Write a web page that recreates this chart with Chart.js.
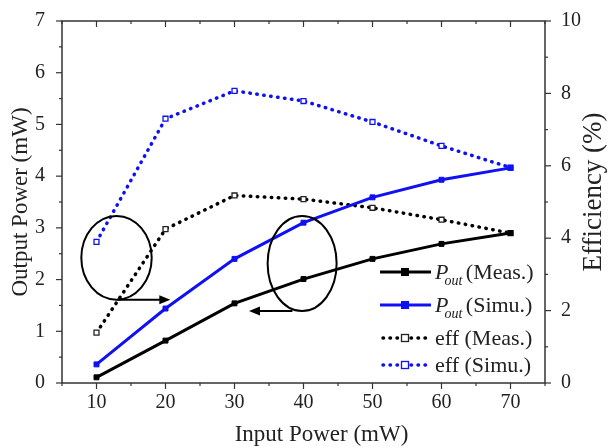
<!DOCTYPE html>
<html>
<head>
<meta charset="utf-8">
<script src="https://cdn.jsdelivr.net/npm/chart.js@4"></script>
<style>
  html, body { margin: 0; padding: 0; background: #fff; }
  #wrap { width: 613px; height: 448px; }
</style>
</head>
<body>
<div id="wrap"><canvas id="powerChart" width="613" height="448"></canvas></div>
<script>
// data
const inputPower = [10, 20, 30, 40, 50, 60, 70];
const poutMeas = [0.11, 0.82, 1.54, 2.01, 2.40, 2.69, 2.90];
const poutSimu = [0.36, 1.44, 2.40, 3.10, 3.59, 3.93, 4.16];
const effMeas = [1.39, 4.25, 5.18, 5.08, 4.84, 4.51, 4.14];
const effSimu = [3.90, 7.30, 8.07, 7.79, 7.21, 6.55, 5.95];
const leftTicks = [0, 1, 2, 3, 4, 5, 6, 7];
const rightTicks = [0, 2, 4, 6, 8, 10];
const xTicks = [10, 20, 30, 40, 50, 60, 70];
const legendNames = [
    ['P', 'out', ' (Meas.)'],
    ['P', 'out', ' (Simu.)'],
    ['eff', '', ' (Meas.)'],
    ['eff', '', ' (Simu.)']
];
// callouts: ellipse centre/radii and arrow in data units
const ellipses = [
    { x: 12.9, y: 2.42, rx: 5.1, ry: 0.81 },
    { x: 39.8, y: 2.31, rx: 5.0, ry: 0.92 }
];
const arrows = [
    { from: 13.0, to: 20.7, y: 1.61 },
    { from: 38.4, to: 32.1, y: 1.39 }
];

const BLUE = '#1010f5';
const SERIF = '"Liberation Serif", "Times New Roman", serif';
const pts = (ys) => inputPower.map((x, i) => ({ x: x, y: ys[i] }));

const frame = {
    id: 'frame',
    afterDraw(chart) {
        const { ctx, chartArea: a, scales } = chart;
        ctx.save();
        ctx.strokeStyle = '#333';
        ctx.lineWidth = 1.5;
        ctx.strokeRect(a.left, a.top, a.right - a.left, a.bottom - a.top);
        ctx.lineWidth = 1.2;
        const line = (x1, y1, x2, y2) => {
            ctx.beginPath(); ctx.moveTo(x1, y1); ctx.lineTo(x2, y2); ctx.stroke();
        };
        for (let v = 5; v <= 75; v += 5) {
            const x = scales.x.getPixelForValue(v);
            const len = v % 10 === 0 ? 6 : 3;
            line(x, a.bottom, x, a.bottom + len);
            line(x, a.top, x, a.top + len);
        }
        for (let v = 0; v <= 7; v += 0.5) {
            const y = scales.y.getPixelForValue(v);
            line(a.left, y, a.left - (v % 1 === 0 ? 6 : 3), y);
        }
        for (let v = 0; v <= 10; v += 1) {
            const y = scales.y2.getPixelForValue(v);
            line(a.right, y, a.right + (v % 2 === 0 ? 6 : 3), y);
        }
        ctx.fillStyle = '#222';
        ctx.textAlign = 'center';
        ctx.textBaseline = 'middle';
        // bottom axis title (sits a little right of centre in the original)
        ctx.font = '23px ' + SERIF;
        ctx.fillText('Input Power (mW)', (a.left + a.right) / 2 + 18, 435);
        // right axis title, reading bottom to top
        ctx.font = '27px ' + SERIF;
        ctx.translate(594, (a.top + a.bottom) / 2 - 10);
        ctx.rotate(-Math.PI / 2);
        ctx.fillText('Efficiency (%)', 0, 0);
        ctx.restore();
    }
};

const callouts = {
    id: 'callouts',
    afterDatasetsDraw(chart) {
        const { ctx, scales } = chart;
        const sx = scales.x, sy = scales.y;
        const kx = sx.getPixelForValue(1) - sx.getPixelForValue(0);
        const ky = sy.getPixelForValue(0) - sy.getPixelForValue(1);
        ctx.save();
        ctx.strokeStyle = '#000';
        ctx.fillStyle = '#000';
        ctx.lineWidth = 2;
        ellipses.forEach(e => {
            ctx.beginPath();
            ctx.ellipse(sx.getPixelForValue(e.x), sy.getPixelForValue(e.y), e.rx * kx, e.ry * ky, 0, 0, Math.PI * 2);
            ctx.stroke();
        });
        arrows.forEach(ar => {
            const x1 = sx.getPixelForValue(ar.from), x2 = sx.getPixelForValue(ar.to);
            const y = sy.getPixelForValue(ar.y);
            const d = Math.sign(x2 - x1);
            ctx.beginPath(); ctx.moveTo(x1, y); ctx.lineTo(x2 - d * 8, y); ctx.stroke();
            ctx.beginPath();
            ctx.moveTo(x2, y); ctx.lineTo(x2 - d * 11, y - 4.5); ctx.lineTo(x2 - d * 11, y + 4.5);
            ctx.closePath(); ctx.fill();
        });

        // legend
        const lx = 380, rows = [272, 305, 338, 365];
        chart.data.datasets.forEach((ds, i) => {
            const y = rows[i];
            const dotted = !!ds.borderDash;
            ctx.strokeStyle = ds.borderColor;
            ctx.lineWidth = ds.borderWidth;
            ctx.setLineDash(dotted ? ds.borderDash : []);
            ctx.lineCap = dotted ? 'round' : 'butt';
            ctx.beginPath(); ctx.moveTo(lx + (dotted ? 3 : 0), y); ctx.lineTo(lx + (dotted ? 47 : 51), y); ctx.stroke();
            ctx.setLineDash([]);
            const mx = lx + 25, r = ds.pointRadius;
            ctx.fillStyle = ds.pointBackgroundColor;
            ctx.fillRect(mx - r, y - r, 2 * r, 2 * r);
            ctx.lineWidth = ds.pointBorderWidth;
            ctx.strokeStyle = ds.pointBorderColor;
            ctx.strokeRect(mx - r, y - r, 2 * r, 2 * r);

            const n = legendNames[i];
            let tx = lx + 55;
            ctx.fillStyle = '#222';
            ctx.textBaseline = 'alphabetic';
            ctx.textAlign = 'left';
            const base = y + 7;
            if (n[1]) {
                ctx.font = 'italic 22px ' + SERIF;
                ctx.fillText(n[0], tx, base);
                const pw = ctx.measureText(n[0]).width;
                ctx.font = 'italic 14px ' + SERIF;
                ctx.fillText(n[1], tx + pw - 4, base + 6);
                tx += pw - 4 + ctx.measureText(n[1]).width - 2;
            } else {
                ctx.font = '22px ' + SERIF;
                ctx.fillText(n[0], tx, base);
                tx += ctx.measureText(n[0]).width;
            }
            ctx.font = '22px ' + SERIF;
            ctx.fillText(n[2], tx, base);
        });
        ctx.restore();
    }
};

new Chart(document.getElementById('powerChart'), {
    type: 'line',
    data: {
        datasets: [{
            label: 'Pout (Meas.)',
            data: pts(poutMeas),
            yAxisID: 'y',
            borderColor: '#000',
            borderWidth: 3,
            pointStyle: 'rect',
            pointRadius: 3.5,
            pointBackgroundColor: '#000',
            pointBorderColor: '#000',
            pointBorderWidth: 1
        }, {
            label: 'Pout (Simu.)',
            data: pts(poutSimu),
            yAxisID: 'y',
            borderColor: BLUE,
            borderWidth: 3,
            pointStyle: 'rect',
            pointRadius: 3.5,
            pointBackgroundColor: BLUE,
            pointBorderColor: BLUE,
            pointBorderWidth: 1
        }, {
            label: 'eff (Meas.)',
            data: pts(effMeas),
            yAxisID: 'y2',
            borderColor: '#000',
            borderWidth: 3.5,
            borderDash: [0.5, 6.5],
            borderCapStyle: 'round',
            pointStyle: 'rect',
            pointRadius: 3.5,
            pointBackgroundColor: '#fff',
            pointBorderColor: '#222',
            pointBorderWidth: 1.3
        }, {
            label: 'eff (Simu.)',
            data: pts(effSimu),
            yAxisID: 'y2',
            borderColor: BLUE,
            borderWidth: 3.5,
            borderDash: [0.5, 6.5],
            borderCapStyle: 'round',
            pointStyle: 'rect',
            pointRadius: 3.5,
            pointBackgroundColor: '#fff',
            pointBorderColor: BLUE,
            pointBorderWidth: 1.3
        }]
    },
    options: {
        responsive: false,
        animation: false,
        layout: { padding: { top: 17 } },
        plugins: {
            legend: { display: false },
            tooltip: { enabled: false }
        },
        scales: {
            x: {
                type: 'linear',
                min: 5,
                max: 75,
                afterFit: (s) => { s.height = 65; },
                afterBuildTicks: (s) => { s.ticks = xTicks.map(v => ({ value: v })); },
                grid: { display: false },
                border: { display: false },
                ticks: { padding: 0, color: '#222', font: { family: SERIF, size: 20 } }
            },
            y: {
                position: 'left',
                min: 0,
                max: 7,
                afterFit: (s) => { s.width = 62; },
                afterBuildTicks: (s) => { s.ticks = leftTicks.map(v => ({ value: v })); },
                grid: { display: false },
                border: { display: false },
                ticks: { padding: 9, color: '#222', font: { family: SERIF, size: 20 } },
                title: {
                    display: true,
                    text: 'Output Power (mW)',
                    color: '#222',
                    font: { family: SERIF, size: 23 },
                    padding: { top: 7, bottom: 0 }
                }
            },
            y2: {
                position: 'right',
                min: 0,
                max: 10,
                afterFit: (s) => { s.width = 68; },
                afterBuildTicks: (s) => { s.ticks = rightTicks.map(v => ({ value: v })); },
                grid: { display: false },
                border: { display: false },
                ticks: { padding: 8, color: '#222', font: { family: SERIF, size: 20 } }
            }
        }
    },
    plugins: [frame, callouts]
});
</script>
</body>
</html>
